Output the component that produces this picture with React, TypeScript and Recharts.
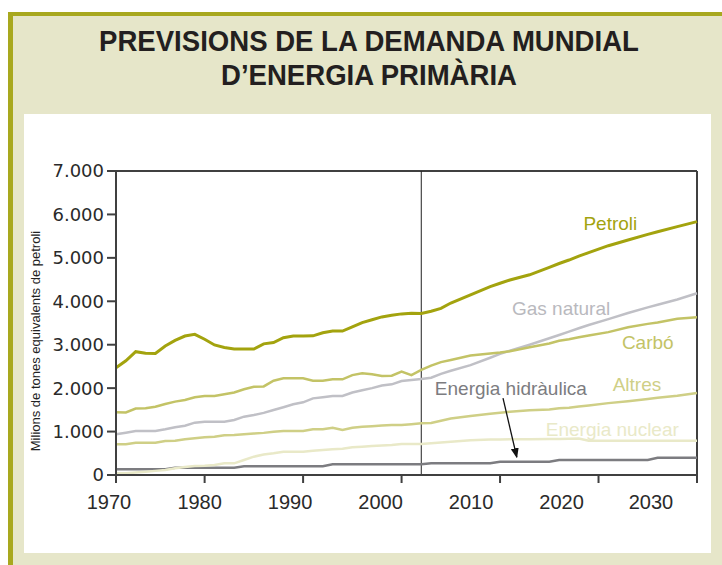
import React from 'react';
import { LineChart, Line, XAxis, YAxis, ReferenceLine, ReferenceDot } from 'recharts';

// years: annual history 1971-2002, then the projection points
const years = [
  1971, 1972, 1973, 1974, 1975, 1976, 1977, 1978, 1979, 1980,
  1981, 1982, 1983, 1984, 1985, 1986, 1987, 1988, 1989, 1990,
  1991, 1992, 1993, 1994, 1995, 1996, 1997, 1998, 1999, 2000,
  2001, 2002,
  2003, 2004, 2005, 2007, 2009, 2010, 2011, 2013, 2015, 2016,
  2017, 2018, 2019, 2021, 2023, 2025, 2026, 2028, 2030,
];

// Mtep
const petroli = [
  2470, 2630, 2840, 2805, 2800, 2970, 3100, 3200, 3240, 3125,
  2995, 2935, 2900, 2900, 2900, 3020, 3050, 3160, 3200, 3200,
  3205, 3275, 3315, 3315, 3410, 3510, 3575, 3640, 3680, 3710,
  3725, 3720,
  3770, 3838, 3960, 4150, 4337, 4415, 4490, 4610, 4780, 4870,
  4950, 5040, 5120, 5280, 5410, 5540, 5600, 5720, 5834,
];
const gasNatural = [
  937, 975, 1013, 1013, 1013, 1052, 1098, 1136, 1205, 1228,
  1228, 1228, 1267, 1343, 1382, 1430, 1497, 1560, 1628, 1673,
  1765, 1790, 1819, 1819, 1900, 1950, 2000, 2060, 2088, 2165,
  2190, 2210,
  2240, 2330, 2400, 2530, 2700, 2790, 2860, 3000, 3148, 3224,
  3301, 3380, 3455, 3590, 3730, 3860, 3920, 4040, 4184,
];
const carbo = [
  1443, 1440, 1530, 1535, 1570, 1635, 1690, 1727, 1790, 1820,
  1820, 1858, 1900, 1975, 2030, 2040, 2170, 2226, 2226, 2226,
  2172, 2170, 2203, 2203, 2300, 2340, 2320, 2280, 2285, 2380,
  2300, 2420,
  2520, 2600, 2650, 2750, 2800, 2820, 2850, 2940, 3030, 3090,
  3125, 3170, 3210, 3290, 3400, 3480, 3510, 3600, 3631,
];
const altres = [
  707, 707, 745, 745, 745, 783, 790, 821, 845, 867,
  883, 913, 920, 937, 955, 970, 998, 1013, 1013, 1013,
  1052, 1052, 1090, 1036, 1090, 1113, 1125, 1140, 1151, 1151,
  1170, 1190,
  1200, 1250, 1300, 1360, 1410, 1435, 1455, 1490, 1510, 1535,
  1551, 1575, 1600, 1655, 1700, 1750, 1780, 1825, 1890,
];
const nuclear = [
  38, 38, 60, 77, 95, 115, 154, 185, 207, 215,
  230, 269, 269, 345, 422, 470, 499, 537, 537, 537,
  560, 576, 591, 606, 637, 652, 665, 680, 691, 714,
  714, 714,
  730, 750, 765, 800, 815, 818, 821, 825, 828, 830,
  835, 840, 790, 790, 790, 790, 790, 790, 790,
];
const hidraulica = [
  131, 131, 131, 131, 131, 131, 169, 169, 169, 169,
  169, 169, 169, 200, 200, 200, 200, 200, 200, 200,
  200, 200, 245, 245, 245, 245, 245, 245, 245, 245,
  245, 245,
  270, 270, 270, 270, 270, 307, 307, 307, 307, 345,
  345, 345, 345, 345, 345, 345, 395, 395, 395,
];

const xTicks = [1971, 1980, 1990, 2000, 2010, 2020, 2030];
const xTickLabels = ['1970', '1980', '1990', '2000', '2010', '2020', '2030'];
// the printed labels drift left of their tick marks in the original
const xLabelShift = [-7, -5, -13, -21, -29, -37, -46];
const yTicks = [0, 1000, 2000, 3000, 4000, 5000, 6000, 7000];

const data = years.map((y, i) => ({
  year: y,
  petroli: petroli[i],
  gas: gasNatural[i],
  carbo: carbo[i],
  altres: altres[i],
  nuclear: nuclear[i],
  hidraulica: hidraulica[i],
}));

const C = {
  petroli: '#a3a30e',
  gas: '#c0c0c6',
  carbo: '#c3c366',
  altres: '#cfcf86',
  nuclear: '#e9e9c8',
  hidraulica: '#7c7c80',
  axis: '#404040',
  beige: '#e6e6c9',
  olive: '#a8a81e',
};

const FONT = "'Liberation Sans', Arial, sans-serif";

const XTick = (props: any) => {
  const { x, y, payload } = props;
  const i = xTicks.indexOf(payload.value);
  return (
    <text x={x + (xLabelShift[i] || 0)} y={y} dy="0.71em" textAnchor="middle"
      fontSize={20} fill="#2a2a2a" fontFamily={FONT}>
      {xTickLabels[i]}
    </text>
  );
};

const fmtY = (v: number) => (v === 0 ? '0' : v.toLocaleString('de-DE'));

const Arrow = (props: any) => {
  const { x1, y1, x2, y2 } = props;
  return (
    <g>
      <defs>
        <marker id="arrowHead" markerWidth="10" markerHeight="10" refX="9" refY="5" orient="auto" markerUnits="userSpaceOnUse">
          <path d="M0,1 L10,5 L0,9 z" fill="#111" />
        </marker>
      </defs>
      <line x1={x1} y1={y1} x2={x2} y2={y2} stroke="#111" strokeWidth={1.3} markerEnd="url(#arrowHead)" />
    </g>
  );
};

const lbl = (value: string, fill: string) => ({
  value,
  position: 'center' as const,
  fill,
  fontSize: 19,
  fontFamily: FONT,
});

const titleStyle: React.CSSProperties = {
  position: 'absolute', left: 0, width: 738, textAlign: 'center',
  fontFamily: FONT, fontWeight: 700, fontSize: 29, lineHeight: '29px',
  color: '#231f20', whiteSpace: 'nowrap', transform: 'scaleX(0.95)',
};

export default function App() {
  return (
    <div style={{ position: 'absolute', left: 0, top: 0, width: 722, height: 565, background: '#fff', overflow: 'hidden' }}>
      <div style={{
        position: 'absolute', left: 8, top: 12, width: 722 - 8 - 5, height: 565 - 12 - 4,
        background: C.beige, borderLeft: `5px solid ${C.olive}`, borderTop: `4px solid ${C.olive}`,
      }} />
      <div style={{ ...titleStyle, top: 27 }}>PREVISIONS DE LA DEMANDA MUNDIAL</div>
      <div style={{ ...titleStyle, top: 61 }}>D’ENERGIA PRIMÀRIA</div>
      <div style={{ position: 'absolute', left: 24, top: 114, width: 687, height: 439, background: '#fff' }} />
      <div style={{ position: 'absolute', left: 35, top: 341, width: 0, height: 0 }}>
        <div style={{
          position: 'absolute', transform: 'translate(-50%, -50%) rotate(-90deg)', whiteSpace: 'nowrap',
          fontFamily: FONT, fontSize: 13, color: '#222',
        }}>
          Milions de tones equivalents de petroli
        </div>
      </div>
      <div style={{ position: 'absolute', left: 0, top: 0 }}>
        <LineChart width={722} height={565} data={data} margin={{ top: 171, right: 25, bottom: 50, left: 56 }}>
          <XAxis dataKey="year" type="number" domain={[1971, 2030]} ticks={xTicks} interval={0}
            tick={<XTick />} tickSize={8} tickMargin={12}
            axisLine={{ stroke: C.axis, strokeWidth: 2 }} tickLine={{ stroke: C.axis, strokeWidth: 2 }} height={40} />
          <YAxis type="number" domain={[0, 7000]} ticks={yTicks} tickFormatter={fmtY} width={60}
            tick={{ fontSize: 18, fill: '#2a2a2a', fontFamily: "'DejaVu Sans', Verdana, sans-serif" }} tickSize={9} tickMargin={3}
            axisLine={{ stroke: C.axis, strokeWidth: 2 }} tickLine={{ stroke: C.axis, strokeWidth: 2 }} />
          <ReferenceLine y={7000} stroke={C.axis} strokeWidth={2} />
          <ReferenceLine x={2030} stroke={C.axis} strokeWidth={2} />
          <ReferenceLine x={2002} stroke="#222" strokeWidth={1} />
          <Line dataKey="hidraulica" stroke={C.hidraulica} strokeWidth={2.5} dot={false} isAnimationActive={false} />
          <Line dataKey="nuclear" stroke={C.nuclear} strokeWidth={2.5} dot={false} isAnimationActive={false} />
          <Line dataKey="altres" stroke={C.altres} strokeWidth={2.5} dot={false} isAnimationActive={false} />
          <Line dataKey="gas" stroke={C.gas} strokeWidth={2.5} dot={false} isAnimationActive={false} />
          <Line dataKey="carbo" stroke={C.carbo} strokeWidth={2.5} dot={false} isAnimationActive={false} />
          <Line dataKey="petroli" stroke={C.petroli} strokeWidth={3} dot={false} isAnimationActive={false} />
          <ReferenceDot x={2021.2} y={5800} r={0} label={lbl('Petroli', C.petroli)} />
          <ReferenceDot x={2016.2} y={3850} r={0} label={lbl('Gas natural', '#b9b9be')} />
          <ReferenceDot x={2025} y={3060} r={0} label={lbl('Carbó', C.carbo)} />
          <ReferenceDot x={2023.9} y={2100} r={0} label={lbl('Altres', C.altres)} />
          <ReferenceDot x={2011.1} y={2000} r={0} label={lbl('Energia hidràulica', C.hidraulica)} />
          <ReferenceDot x={2021.4} y={1060} r={0} label={lbl('Energia nuclear', C.nuclear)} />
          <ReferenceLine segment={[{ x: 2010.3, y: 1770 }, { x: 2011.7, y: 410 }]} shape={<Arrow />} />
        </LineChart>
      </div>
    </div>
  );
}
